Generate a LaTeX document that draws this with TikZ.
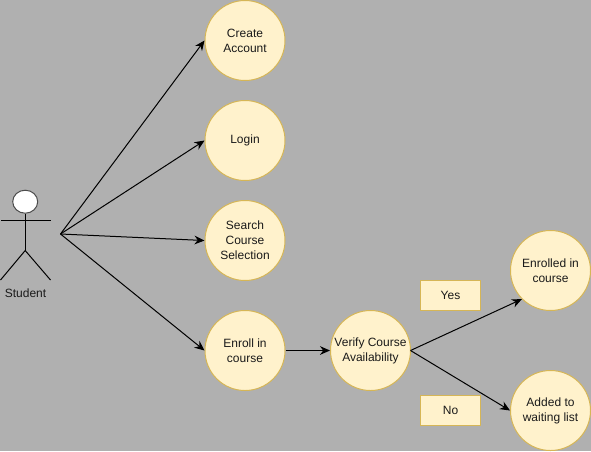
\documentclass[tikz,border=0pt]{standalone}
\usepackage{fontspec}
\setmainfont{Liberation Sans}
\usetikzlibrary{arrows.meta}
\definecolor{bgc}{HTML}{B0B0B0}
\definecolor{fillc}{HTML}{FFF2CC}
\definecolor{strokec}{HTML}{D6B656}
\definecolor{inkc}{HTML}{1A1A1A}
\tikzset{
  usecase/.style={circle,draw=strokec,fill=fillc,line width=0.75pt,minimum size=60pt,inner sep=0pt,align=center,font=\fontsize{9}{11.25}\selectfont,text=inkc},
  notebox/.style={rectangle,draw=strokec,fill=fillc,line width=0.75pt,minimum width=45pt,minimum height=22.5pt,inner sep=0pt,font=\fontsize{9}{11.25}\selectfont,text=inkc},
  link/.style={draw=black,line width=0.75pt,-{Stealth[length=7.5pt,width=6.5pt]}},
  actorline/.style={draw=black,line width=0.75pt},
  actorhead/.style={ellipse,draw=black!70,fill=white,line width=0.75pt,minimum width=18.75pt,minimum height=17.25pt,inner sep=0pt}
}
\usetikzlibrary{shapes.geometric}
\begin{document}
\begin{tikzpicture}[x=0.75pt,y=-0.75pt]
\fill[bgc] (0,0) rectangle (591,451);
\useasboundingbox (0,0) rectangle (591,451);
\node[usecase] (create) at (245,40.5) {Create\\Account};
\node[usecase] (login) at (245,140.5) {Login};
\node[usecase] (search) at (245,240.5) {Search\\Course\\Selection};
\node[usecase] (enroll) at (245,350.5) {Enroll in\\course};
\node[usecase] (verify) at (370.5,350.5) {Verify Course\\Availability};
\node[usecase] (enrolled) at (550.5,270.5) {Enrolled in\\course};
\node[usecase] (added) at (550.5,410.5) {Added to\\waiting list};
\node[notebox] (yes) at (450.5,295.5) {Yes};
\node[notebox] (no) at (450.5,410.5) {No};
\node[actorhead] (head) at (25.2,201.7) {};
\coordinate (hip) at (25.2,250.5);
\coordinate (armL) at (1,220.5);
\coordinate (armR) at (50.5,220.5);
\coordinate (legL) at (0.5,280);
\coordinate (legR) at (50.5,280);
\draw[actorline] (head.south) -- (hip);
\draw[actorline] (armL) -- (armR);
\draw[actorline] (legL) -- (hip) -- (legR);
\node[font=\fontsize{9}{11.25}\selectfont,text=inkc] (student) at (25.5,293.5) {Student};
\coordinate (hub) at (60.5,234);
\coordinate (vout) at (410.5,350.5);
\draw[link] (hub) -- (create.west);
\draw[link] (hub) -- (login.west);
\draw[link] (hub) -- (search.west);
\draw[link] (hub) -- (enroll.west);
\draw[link] (enroll) -- (verify);
\draw[link] (vout) -- (enrolled.south west);
\draw[link] (vout) -- (added.west);
\end{tikzpicture}
\end{document}
